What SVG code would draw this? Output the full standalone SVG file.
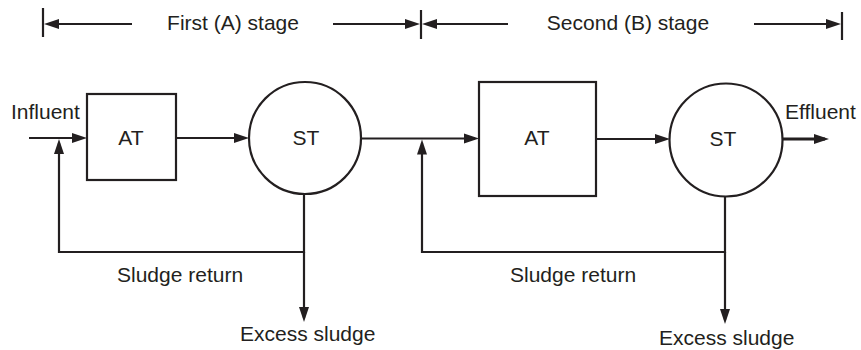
<svg xmlns="http://www.w3.org/2000/svg" width="861" height="350" viewBox="0 0 861 350">
<style>
text{font-family:"Liberation Sans",Arial,sans-serif;font-size:21px;fill:#231f20}
.ln{fill:none;stroke:#231f20;stroke-width:2.2}
.arr{marker-end:url(#ah)}
.bold{stroke-width:3.2}
.shape{fill:#fff;stroke:#231f20;stroke-width:2.2}
</style>
<defs>
<marker id="ah" markerUnits="userSpaceOnUse" markerWidth="18" markerHeight="12" refX="11" refY="5.5" orient="auto">
<path d="M0,0.5 L15,5.5 L0,10.5 z" fill="#231f20"/>
</marker>
</defs>
<g id="dimensions">
<line class="ln" x1="43" y1="8" x2="43" y2="37"/>
<line class="ln" x1="421" y1="10" x2="421" y2="39"/>
<line class="ln" x1="842" y1="12" x2="842" y2="40"/>
<line class="ln arr" x1="132" y1="24" x2="48" y2="24"/>
<line class="ln arr" x1="333" y1="24" x2="416" y2="24"/>
<line class="ln arr" x1="508" y1="24" x2="426" y2="24"/>
<line class="ln arr" x1="754" y1="24" x2="837" y2="24"/>
<text x="233" y="30" text-anchor="middle">First (A) stage</text>
<text x="628" y="30" text-anchor="middle">Second (B) stage</text>
</g>
<g id="connectors">
<line class="ln arr" x1="29" y1="138" x2="83" y2="138"/>
<line class="ln arr" x1="176" y1="138" x2="245" y2="138"/>
<line class="ln arr" x1="361" y1="138.5" x2="475" y2="138.5"/>
<line class="ln arr" x1="596" y1="139" x2="666" y2="139"/>
<line class="ln bold arr" x1="782" y1="139" x2="825" y2="139"/>
<path class="ln arr" d="M304,194 V252 H59 V143"/>
<path class="ln arr" d="M304,252 V318"/>
<path class="ln arr" d="M725,197 V252 H422 V143.5"/>
<path class="ln arr" d="M725,252 V320"/>
</g>
<g id="at1">
<rect class="shape" x="87" y="94" width="89" height="86"/>
<text x="131" y="145" text-anchor="middle">AT</text>
</g>
<g id="st1">
<circle class="shape" cx="305" cy="138" r="56"/>
<text x="306" y="145" text-anchor="middle">ST</text>
</g>
<g id="at2">
<rect class="shape" x="479" y="82" width="117" height="114"/>
<text x="537" y="145" text-anchor="middle">AT</text>
</g>
<g id="st2">
<circle class="shape" cx="726" cy="140" r="56.5"/>
<text x="723" y="146" text-anchor="middle">ST</text>
</g>
<g id="labels">
<text x="11" y="119">Influent</text>
<text x="785" y="119">Effluent</text>
<text x="117" y="282">Sludge return</text>
<text x="510" y="282">Sludge return</text>
<text x="240" y="341">Excess sludge</text>
<text x="659" y="345">Excess sludge</text>
</g>
</svg>
